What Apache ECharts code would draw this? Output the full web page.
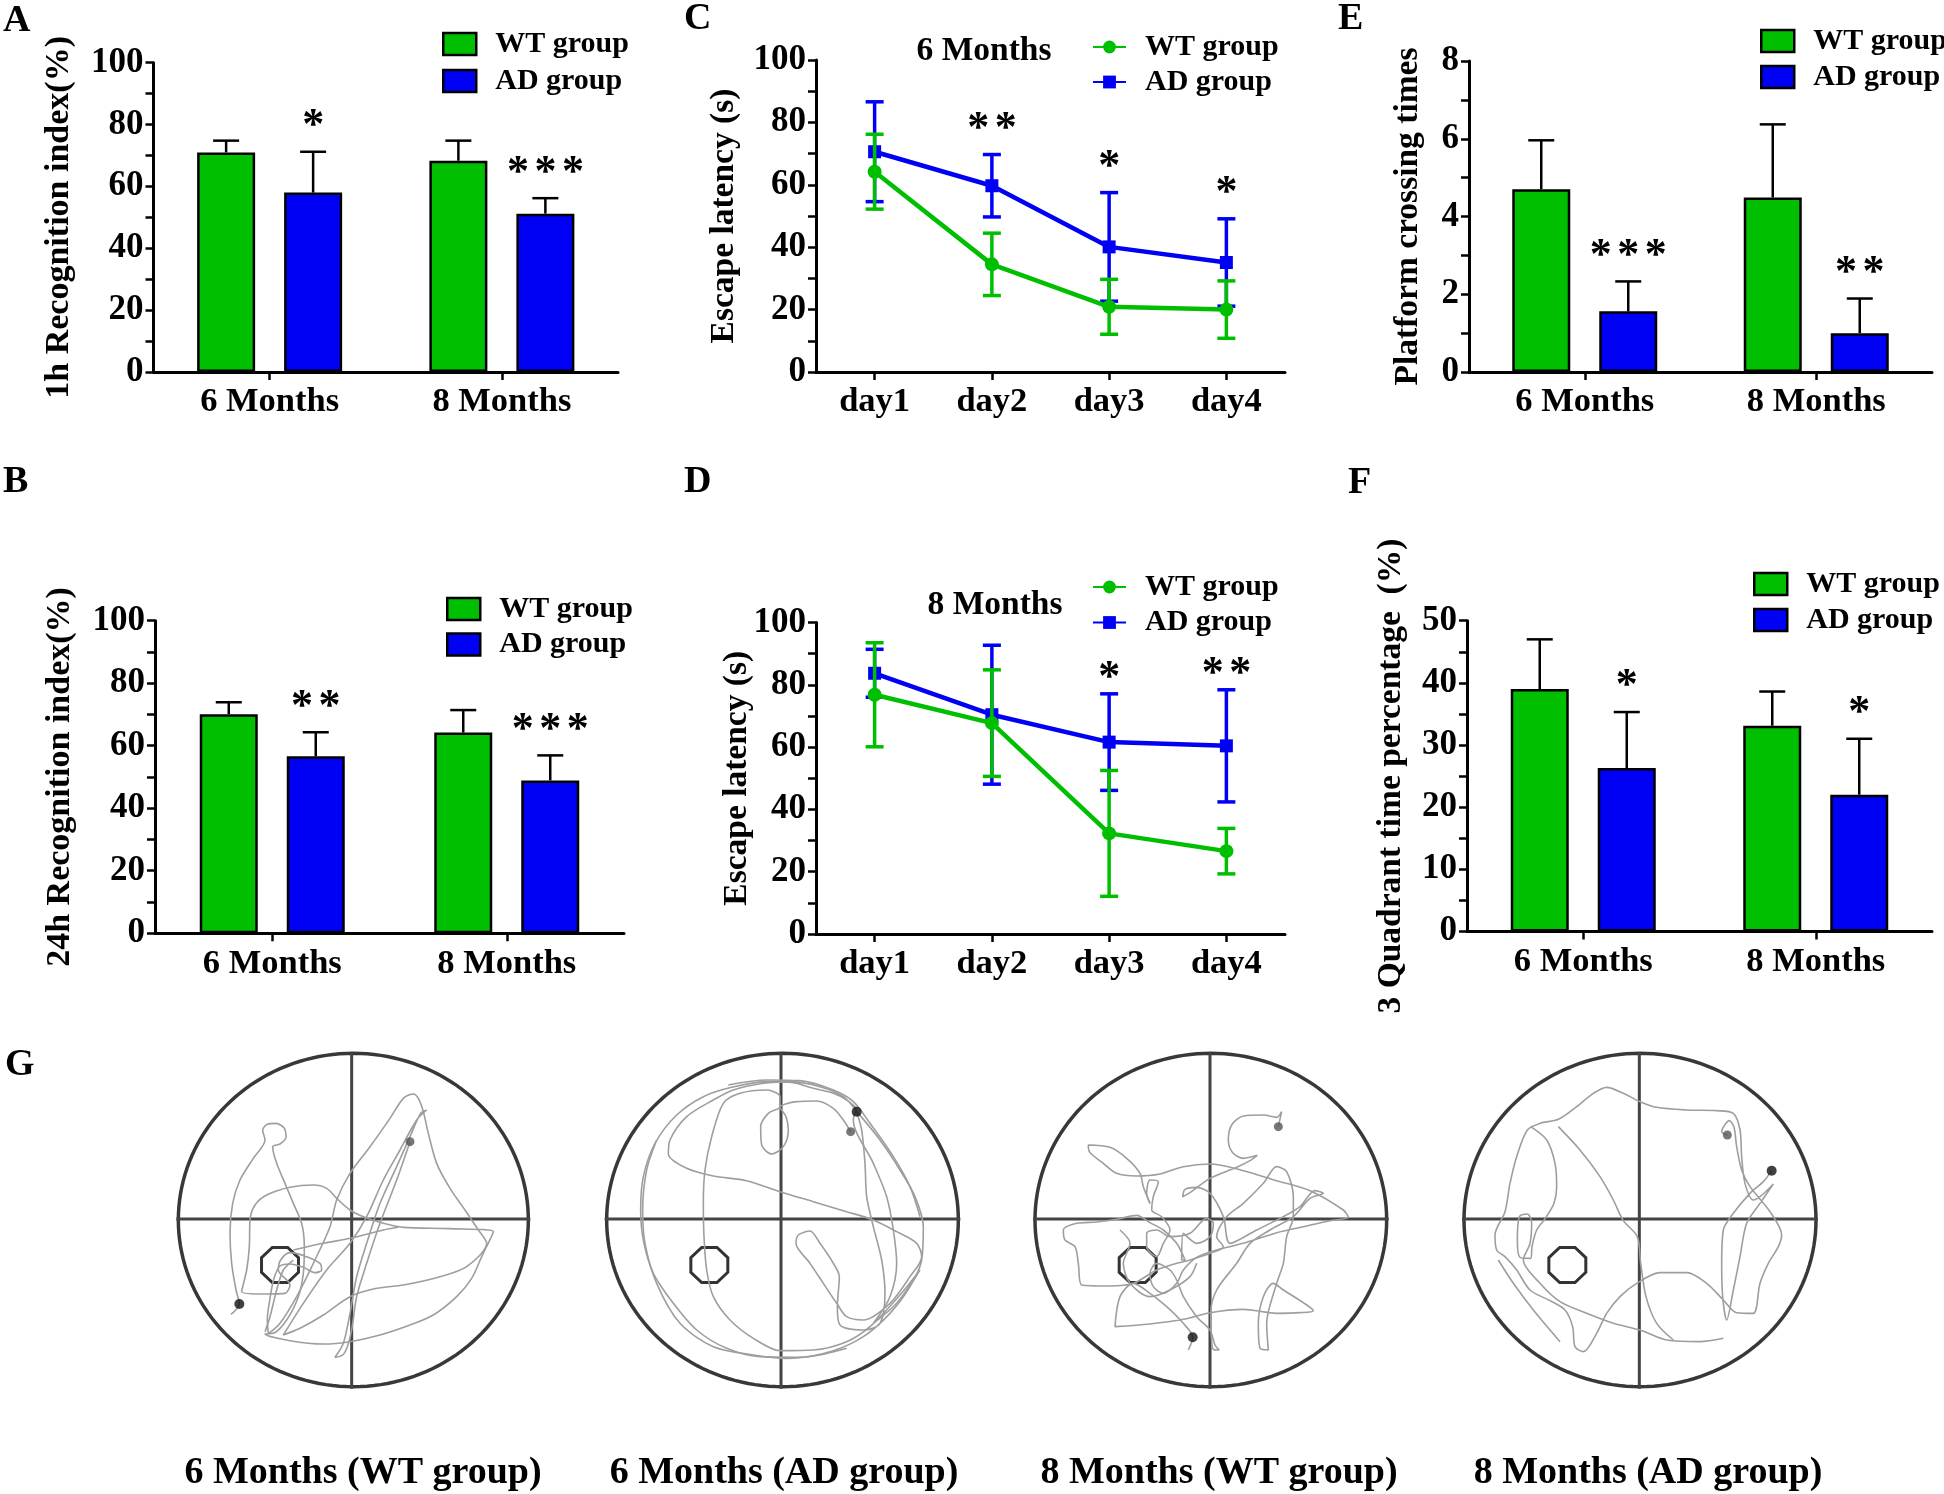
<!DOCTYPE html>
<html><head><meta charset="utf-8">
<script src="https://cdn.jsdelivr.net/npm/echarts@6.0.0/dist/echarts.min.js"></script>
<style>html,body{margin:0;padding:0;background:#fff}#c{width:1944px;height:1494px}</style>
</head><body><div id="c"></div>
<script>
const FONT = '"Liberation Serif","Times New Roman",serif';
const GREEN = '#00bf00', BLUE = '#0000f5';

// ---------- data ----------
const monthCats = ['6 Months', '8 Months'];
const dayCats = ['day1', 'day2', 'day3', 'day4'];

// A: 1h recognition index
const recog1hWT = [71.0, 68.3];
const recog1hWTErr = [3.8, 6.5];
const recog1hAD = [58.0, 51.2];
const recog1hADErr = [13.2, 5.0];
const recog1hStars = ['*', '***'];

// B: 24h recognition index
const recog24hWT = [70.1, 64.2];
const recog24hWTErr = [3.8, 7.2];
const recog24hAD = [56.6, 48.9];
const recog24hADErr = [7.7, 8.0];
const recog24hStars = ['**', '***'];

// C: escape latency 6 months
const lat6WT = [64.2, 34.5, 20.9, 20.0];
const lat6WTErr = [12.0, 10.0, 8.8, 9.2];
const lat6AD = [70.6, 59.7, 40.1, 35.1];
const lat6ADErr = [16.0, 10.0, 17.4, 14.0];
const lat6Stars = ['', '**', '*', '*'];

// D: escape latency 8 months
const lat8WT = [76.8, 67.7, 32.3, 26.6];
const lat8WTErr = [16.7, 17.1, 20.2, 7.3];
const lat8AD = [83.7, 70.4, 61.6, 60.4];
const lat8ADErr = [7.7, 22.3, 15.5, 18.0];
const lat8Stars = ['', '', '*', '**'];

// E: platform crossing times
const crossWT = [4.70, 4.49];
const crossWTErr = [1.26, 1.88];
const crossAD = [1.56, 1.00];
const crossADErr = [0.77, 0.89];
const crossStars = ['***', '**'];

// F: 3 quadrant time percentage
const quadWT = [39.0, 33.1];
const quadWTErr = [8.0, 5.5];
const quadAD = [26.3, 22.0];
const quadADErr = [9.0, 9.0];
const quadStars = ['*', '*'];

// G: swim paths (tracking-camera pixel units)
const poolCaptions = ['6 Months (WT group)', '6 Months (AD group)', '8 Months (WT group)', '8 Months (AD group)'];
const poolXRange = [[85, 1135], [80, 1135], [75, 1130], [72, 1128]];
const poolYRange = [70, 1070];
const crossX = [605, 603, 600, 598];
const crossY = 567;
const platformCenter = [[390, 705], [388, 705], [383, 705], [382, 705]];
const platformRadius = [60, 57];
const startDots = [[268, 822], [830, 245], [548, 922], [995, 422]];
const endDots = [[780, 335], [812, 305], [805, 290], [862, 315]];

const traj1 = [
 [[243,853],[268,822],[258,780],[245,700],[240,610],[248,520],[270,450],[310,385],[345,330],[338,300],[352,283],[378,280],[403,295],[408,322],[390,342],[368,350],[380,400],[405,460],[430,520],[455,580],[463,650],[460,730],[445,800],[410,870],[370,910],[345,912],[420,932],[520,942],[600,935],[690,915],[780,885],[850,855],[920,800],[965,745],[995,680],[1030,605],[900,596],[760,592],[700,580],[640,560],[600,540],[560,505],[530,475],[490,465],[420,472],[350,495],[315,525],[300,570],[298,650],[290,720],[275,785],[350,792],[405,790],[420,765],[385,720],[392,690],[420,668],[470,680],[510,700],[515,720],[495,728],[460,712],[420,702],[390,708],[372,745],[360,805],[352,870],[355,912]],
 [[355,912],[390,880],[440,800],[490,700],[540,590],[560,510],[600,430],[660,350],[720,265],[760,205],[790,192],[805,205],[820,245],[835,310],[860,400],[900,475],[945,540],[985,600],[1010,640],[950,710],[870,740],[760,765],[680,775],[600,800],[520,855],[450,895],[400,915],[460,820],[530,720],[600,640],[650,560],[700,450],[750,360],[800,270],[830,240],[812,250],[780,320],[740,410],[690,520],[650,640],[620,740],[600,850],[580,940],[555,982],[578,975],[592,950],[605,900],[620,800],[650,700],[690,580],[740,450],[780,335]],
 [[430,660],[520,640],[600,625],[700,600],[745,592]],
 [[345,905],[360,860],[380,780],[400,720],[430,690]]
];
const traj2 = [
 [[830,245],[845,300],[855,400],[860,500],[880,590],[905,690],[915,790],[900,880],[850,900],[780,885],[772,830],[778,740],[760,700],[720,640],[690,603],[655,615],[648,640],[690,700],[730,760],[770,820],[800,860],[850,870],[930,820],[990,740],[1025,680],[1010,640],[950,605],[880,570],[800,545],[700,515],[600,485],[500,452],[400,438],[320,415],[265,372],[270,330],[320,260],[400,210],[460,180],[550,160],[630,155],[720,170],[790,200],[835,250],[900,330],[960,420],[1005,500],[1030,590],[1025,690],[990,770],[930,850],[850,920],[760,962],[650,982],[540,980],[440,955],[350,900],[280,820],[220,730],[190,630],[182,540],[190,440],[225,340],[290,255],[370,200],[455,172],[560,155],[640,158],[700,175],[760,190],[800,210],[830,235]],
 [[830,235],[820,270],[880,400],[920,500],[940,600],[950,700],[930,800],[880,880],[950,820],[1020,720],[960,795],[870,890],[800,935],[700,960],[600,962],[520,925],[450,870],[400,800],[380,720],[372,620],[370,520],[375,420],[395,320],[430,220],[480,190],[560,180],[600,200],[600,230],[565,250],[542,290],[545,345],[575,372],[610,350],[625,300],[618,260],[600,232],[650,215],[710,213],[760,235],[790,270],[812,305]],
 [[230,330],[200,420],[188,540],[195,640],[230,760],[300,880],[400,950],[520,975],[620,985],[720,975],[800,955]],
 [[445,165],[560,150],[660,152],[760,180],[820,215],[870,280],[940,380],[990,470],[1020,560]]
];
const traj3 = [
 [[535,960],[548,922],[520,880],[470,830],[420,790],[370,760],[330,800],[315,890],[420,882],[520,868],[600,848],[700,838],[800,850],[870,848],[910,842],[880,818],[820,780],[790,760],[760,800],[745,880],[750,955],[775,960],[770,880],[800,760],[820,700],[830,620],[850,560],[850,500],[830,425],[800,410],[760,460],[700,520],[650,560],[620,620],[640,650],[600,670],[540,690],[500,700],[440,720],[370,760],[300,768],[215,765],[205,700],[195,650],[165,630],[160,600],[200,580],[260,576],[320,568],[380,556],[420,578],[460,600],[500,640],[525,690],[515,690],[520,610],[560,640],[600,620],[610,580],[590,565],[540,610],[480,620],[440,600],[410,610],[410,650],[440,680],[460,640],[480,600],[455,560],[425,540],[430,500],[445,455],[420,450],[410,490],[420,520]],
 [[420,520],[400,470],[390,430],[350,385],[300,352],[235,345],[238,365],[280,400],[320,430],[380,438],[450,432],[520,410],[600,402],[700,422],[800,452],[900,482],[1000,540],[1015,562],[960,572],[880,590],[800,608],[700,640],[620,660],[560,682],[520,720],[500,760],[460,790],[430,770],[420,730],[440,700],[480,720],[500,750],[520,800],[560,860],[600,900],[615,945],[628,960],[610,958],[604,920],[602,850],[620,780],[680,700],[720,640],[780,600],[850,560],[900,505],[940,490],[915,482],[870,530],[820,560],[740,600],[660,640],[640,560],[600,490],[560,472],[525,478],[518,500],[540,488],[600,445],[680,412],[720,392],[742,376],[700,385],[668,368],[655,330],[665,285],[700,258],[760,255],[800,262],[815,245],[805,290]],
 [[330,600],[360,640],[340,700],[360,760],[420,800],[480,780],[540,740],[560,700]]
];
const traj4 = [
 [[862,315],[845,305],[868,272],[882,292],[890,350],[905,420],[930,470],[990,545],[1025,615],[1015,650],[985,700],[960,760],[940,850],[890,848],[850,810],[800,760],[740,728],[660,728],[590,760],[540,800],[500,850],[470,910],[430,965],[405,950],[398,890],[375,840],[330,812],[270,780],[230,720],[195,680],[170,660],[165,615],[195,545],[210,460],[230,380],[262,300],[300,280],[355,268],[410,230],[460,190],[500,172],[550,190],[600,215],[650,232],[740,240],[830,242],[880,250],[900,300],[905,380],[915,460],[940,510],[1000,462],[960,520],[920,580],[900,680],[880,780],[860,870],[848,800],[845,700],[850,600],[880,550],[930,490],[970,455],[995,422]],
 [[272,290],[320,330],[345,400],[350,470],[342,520],[318,562],[290,600],[276,650],[272,685],[240,682],[232,630],[238,560],[262,552],[275,580],[270,640],[250,690],[300,760],[360,815],[440,850],[520,880],[600,900],[680,930],[780,935],[850,925]],
 [[355,290],[420,360],[480,440],[520,510],[550,572],[592,620],[602,700],[618,800],[650,880],[700,930]],
 [[175,690],[220,760],[280,840],[360,935]]
];
const trajectories = [traj1, traj2, traj3, traj4];

// ---------- layout ----------
const panelGrids = [
  {left: 153.5, top: 62.7, width: 464.5, height: 309.3},  // A
  {left: 816, top: 60, width: 469, height: 312},          // C
  {left: 1469, top: 61, width: 463, height: 311},         // E
  {left: 155, top: 620.7, width: 469, height: 312.5},     // B
  {left: 816, top: 622.5, width: 469, height: 311.5},     // D
  {left: 1467, top: 620.7, width: 465, height: 310.7}     // F
];
const poolCropX = [150, 580, 1010, 1440];
const poolCropY = 1030;

const grid = [], xAxis = [], yAxis = [], series = [], legend = [];

const axisLineStyle = {color: '#000', width: 3};
const tickStyle = {color: '#000', width: 2.5};
const tickFont = {color: '#000', fontFamily: FONT, fontWeight: 'bold', fontSize: 35};
const catFont = {color: '#000', fontFamily: FONT, fontWeight: 'bold', fontSize: 34.5};
const STAR_FONT = 'bold 44px ' + FONT;
const STAR_STEP = 27.5;

function errRender(off, capW, color, lw, both, stars, starOff) {
  return function (params, api) {
    const i = api.value(0), v = api.value(1), e = api.value(2);
    const pTop = api.coord([i, v + e]);
    const pBase = api.coord([i, both ? v - e : v]);
    const x = pTop[0] + off;
    const st = {stroke: color, lineWidth: lw};
    const ch = [
      {type: 'line', shape: {x1: x, y1: pBase[1], x2: x, y2: pTop[1]}, style: st},
      {type: 'line', shape: {x1: x - capW / 2, y1: pTop[1], x2: x + capW / 2, y2: pTop[1]}, style: st}
    ];
    if (both) ch.push({type: 'line', shape: {x1: x - capW / 2, y1: pBase[1], x2: x + capW / 2, y2: pBase[1]}, style: st});
    const s = stars ? stars[params.dataIndex] : '';
    if (s) {
      const n = s.length;
      for (let j = 0; j < n; j++) {
        ch.push({type: 'text', x: x + (j - (n - 1) / 2) * STAR_STEP, y: pTop[1] - starOff,
          style: {text: s[j], fill: '#000', font: STAR_FONT, align: 'center', verticalAlign: 'middle'}});
      }
    }
    return {type: 'group', children: ch};
  };
}

function addAxes(gi, cats, yCfg) {
  grid.push(Object.assign({containLabel: false, outerBoundsMode: 'none'}, panelGrids[gi]));
  xAxis.push({type: 'category', gridIndex: gi, data: cats,
    axisLine: {show: true, lineStyle: axisLineStyle},
    axisTick: {show: true, alignWithLabel: true, length: 8, lineStyle: tickStyle},
    axisLabel: Object.assign({interval: 0, margin: 13}, catFont),
    splitLine: {show: false}});
  yAxis.push({type: 'value', gridIndex: gi, min: 0, max: yCfg.max, interval: yCfg.interval,
    axisLine: {show: true, lineStyle: axisLineStyle},
    axisTick: {show: true, length: 8, lineStyle: tickStyle},
    minorTick: {show: true, splitNumber: 2, length: 8, lineStyle: tickStyle},
    splitLine: {show: false}, minorSplitLine: {show: false},
    axisLabel: Object.assign({margin: 10}, tickFont),
    name: yCfg.name, nameLocation: 'middle', nameRotate: 90, nameGap: yCfg.nameGap, nameMoveOverlap: false,
    nameTextStyle: {color: '#000', fontFamily: FONT, fontWeight: 'bold', fontSize: yCfg.nameSize || 33.5, align: 'center', verticalAlign: 'middle'}});
}

function barPanel(gi, wt, wtErr, ad, adErr, stars, yCfg, leg) {
  addAxes(gi, monthCats, yCfg);
  const common = {xAxisIndex: gi, yAxisIndex: gi};
  series.push(Object.assign({type: 'bar', name: 'WT group', data: wt, barWidth: 58, barGap: '50%',
    itemStyle: {color: GREEN, borderColor: '#000', borderWidth: 2.5}, z: 2}, common));
  series.push(Object.assign({type: 'bar', name: 'AD group', data: ad, barWidth: 58, barGap: '50%',
    itemStyle: {color: BLUE, borderColor: '#000', borderWidth: 2.5}, z: 2}, common));
  series.push(Object.assign({type: 'custom', data: wt.map((v, i) => [i, v, wtErr[i]]),
    renderItem: errRender(-43.5, 26, '#000', 2.5, false, null, 0), z: 3}, common));
  series.push(Object.assign({type: 'custom', data: ad.map((v, i) => [i, v, adErr[i]]),
    renderItem: errRender(43.5, 26, '#000', 2.5, false, stars, 25), z: 3}, common));
  legend.push({orient: 'vertical', left: leg[0], top: leg[1], itemGap: leg[2], padding: 0,
    itemWidth: 33, itemHeight: 22, icon: 'rect', selectedMode: false,
    data: ['WT group', 'AD group'],
    itemStyle: {borderColor: '#000', borderWidth: 2.5},
    textStyle: {color: '#000', fontFamily: FONT, fontWeight: 'bold', fontSize: 30, lineHeight: 30, padding: [0, 0, 0, 14]}});
}

function linePanel(gi, wt, wtErr, ad, adErr, stars, starOff, yCfg, leg) {
  addAxes(gi, dayCats, yCfg);
  const common = {xAxisIndex: gi, yAxisIndex: gi};
  series.push(Object.assign({type: 'custom', data: ad.map((v, i) => [i, v, adErr[i]]),
    renderItem: errRender(0, 18, BLUE, 3.5, true, stars, starOff), z: 2}, common));
  series.push(Object.assign({type: 'line', name: 'AD group|L', data: ad, symbol: 'rect', symbolSize: 13,
    lineStyle: {color: BLUE, width: 4.5}, itemStyle: {color: BLUE}, z: 3}, common));
  series.push(Object.assign({type: 'custom', data: wt.map((v, i) => [i, v, wtErr[i]]),
    renderItem: errRender(0, 18, GREEN, 3.5, true, null, 0), z: 4}, common));
  series.push(Object.assign({type: 'line', name: 'WT group|L', data: wt, symbol: 'circle', symbolSize: 14,
    lineStyle: {color: GREEN, width: 4.5}, itemStyle: {color: GREEN}, z: 5}, common));
  legend.push({orient: 'vertical', left: leg[0], top: leg[1], itemGap: leg[2], padding: 0,
    itemWidth: 33, itemHeight: 16, selectedMode: false,
    data: ['WT group|L', 'AD group|L'],
    formatter: n => n.replace('|L', ''),
    textStyle: {color: '#000', fontFamily: FONT, fontWeight: 'bold', fontSize: 30, lineHeight: 30, padding: [0, 0, 0, 14]}});
}

barPanel(0, recog1hWT, recog1hWTErr, recog1hAD, recog1hADErr, recog1hStars,
  {max: 100, interval: 20, name: '1h Recognition index(%)', nameGap: 94, nameSize: 34}, [442, 29, 7]);
linePanel(1, lat6WT, lat6WTErr, lat6AD, lat6ADErr, lat6Stars, 25,
  {max: 100, interval: 20, name: 'Escape latency (s)', nameGap: 92}, [1092, 32, 5]);
barPanel(2, crossWT, crossWTErr, crossAD, crossADErr, crossStars,
  {max: 8, interval: 2, name: 'Platform crossing times', nameGap: 61}, [1760, 26, 6]);
barPanel(3, recog24hWT, recog24hWTErr, recog24hAD, recog24hADErr, recog24hStars,
  {max: 100, interval: 20, name: '24h Recognition index(%)', nameGap: 95, nameSize: 34}, [446, 594, 5.5]);
linePanel(4, lat8WT, lat8WTErr, lat8AD, lat8ADErr, lat8Stars, 15,
  {max: 100, interval: 20, name: 'Escape latency (s)', nameGap: 79}, [1092, 572, 5.5]);
barPanel(5, quadWT, quadWTErr, quadAD, quadADErr, quadStars,
  {max: 50, interval: 10, name: '3 Quadrant time percentage  (%)', nameGap: 76, nameSize: 33.5}, [1753, 569, 6]);

// ---------- pools ----------
function octagon(api, c, r) {
  const pts = [];
  for (let i = 0; i < 8; i++) {
    const t = Math.PI / 8 + i * Math.PI / 4;
    pts.push(api.coord([c[0] + r[0] * Math.cos(t), c[1] + r[1] * Math.sin(t)]));
  }
  return pts;
}
for (let k = 0; k < 4; k++) {
  const gi = 6 + k;
  const xr = poolXRange[k];
  grid.push({left: poolCropX[k] + xr[0] / 3, top: poolCropY + poolYRange[0] / 3,
    width: (xr[1] - xr[0]) / 3, height: (poolYRange[1] - poolYRange[0]) / 3, containLabel: false, outerBoundsMode: 'none'});
  xAxis.push({type: 'value', gridIndex: gi, min: xr[0], max: xr[1], show: false});
  yAxis.push({type: 'value', gridIndex: gi, min: poolYRange[0], max: poolYRange[1], inverse: true, show: false});
  const common = {xAxisIndex: gi, yAxisIndex: gi};
  series.push(Object.assign({type: 'custom', silent: true, z: 1,
    data: [[(xr[0] + xr[1]) / 2, (poolYRange[0] + poolYRange[1]) / 2]],
    renderItem: function (params, api) {
      const cx = api.value(0), cy = api.value(1);
      const rx = (xr[1] - xr[0]) / 2, ry = (poolYRange[1] - poolYRange[0]) / 2;
      const ell = [];
      for (let i = 0; i < 160; i++) {
        const t = i / 160 * Math.PI * 2;
        ell.push(api.coord([cx + rx * Math.cos(t), cy + ry * Math.sin(t)]));
      }
      const v1 = api.coord([crossX[k], cy - ry - 2]), v2 = api.coord([crossX[k], cy + ry + 6]);
      const h1 = api.coord([cx - rx - 6, crossY]), h2 = api.coord([cx + rx + 6, crossY]);
      return {type: 'group', children: [
        {type: 'polygon', shape: {points: ell}, style: {fill: 'none', stroke: '#383838', lineWidth: 3.5}},
        {type: 'line', shape: {x1: v1[0], y1: v1[1], x2: v2[0], y2: v2[1]}, style: {stroke: '#444', lineWidth: 3}},
        {type: 'line', shape: {x1: h1[0], y1: h1[1], x2: h2[0], y2: h2[1]}, style: {stroke: '#444', lineWidth: 3}},
        {type: 'polygon', shape: {points: octagon(api, platformCenter[k], platformRadius)}, style: {fill: 'none', stroke: '#333', lineWidth: 3}}
      ]};
    }}, common));
  trajectories[k].forEach(stroke => {
    series.push(Object.assign({type: 'line', data: stroke, showSymbol: false, symbol: 'none', smooth: 0.3,
      silent: true, clip: false, lineStyle: {color: '#9e9e9e', width: 1.6}, z: 2}, common));
  });
  series.push(Object.assign({type: 'scatter', data: [startDots[k]], symbolSize: 10, silent: true,
    itemStyle: {color: '#111'}, z: 4}, common));
  series.push(Object.assign({type: 'scatter', data: [endDots[k]], symbolSize: 9, silent: true,
    itemStyle: {color: '#555'}, z: 4}, common));
}

// ---------- static texts ----------
function txt(text, x, y, size, align) {
  return {type: 'text', x: x, y: y, silent: true,
    style: {text: text, fill: '#000', font: 'bold ' + size + 'px ' + FONT, align: align || 'left', verticalAlign: 'middle'}};
}
const graphic = [
  txt('A', 3, 21, 38), txt('C', 684, 19, 38), txt('E', 1338, 19, 38),
  txt('B', 3, 482, 38), txt('D', 684, 482, 38), txt('F', 1348, 483, 38),
  txt('G', 5, 1065, 38),
  txt('6 Months', 984, 51, 33.5, 'center'),
  txt('8 Months', 995, 605, 33.5, 'center')
];
const captionX = [363, 784, 1219, 1648];
poolCaptions.forEach((c, i) => graphic.push(txt(c, captionX[i], 1473, 38, 'center')));

const chart = echarts.init(document.getElementById('c'), null, {renderer: 'canvas'});
chart.setOption({
  animation: false,
  backgroundColor: '#fff',
  grid, xAxis, yAxis, series, legend, graphic
});
</script>
</body></html>
